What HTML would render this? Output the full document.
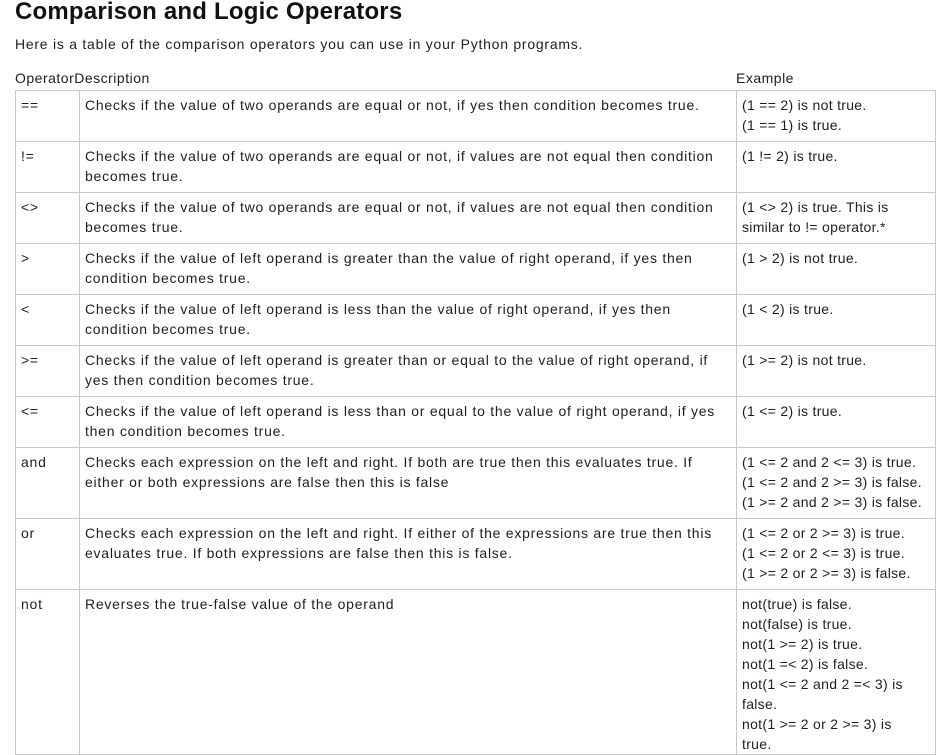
<!DOCTYPE html>
<html><head><meta charset="utf-8"><style>
body{margin:0;background:#fff;width:947px;height:745px;overflow:hidden;font-family:"Liberation Sans",sans-serif;color:#1e1e1e;position:relative}
h1{position:absolute;left:15px;top:-2px;margin:0;font-size:24px;font-weight:bold;color:#111;white-space:nowrap;letter-spacing:0.2px}
.p{position:absolute;left:15px;top:36px;font-size:14px;letter-spacing:0.75px;white-space:nowrap}
.hd{position:absolute;top:70px;font-size:14px;letter-spacing:0.5px;white-space:nowrap}
table{position:absolute;left:15px;top:90px;border-collapse:collapse;table-layout:fixed;font-size:14px;letter-spacing:0.75px}
td{border:1px solid #c8c8c8;vertical-align:top;padding:4px 6px 0 5px;line-height:20px;white-space:nowrap;overflow:hidden}
td:last-child{letter-spacing:0.3px}
</style></head><body>
<h1>Comparison and Logic Operators</h1>
<div class="p">Here is a table of the comparison operators you can use in your Python programs.</div>
<div class="hd" style="left:15px">OperatorDescription</div>
<div class="hd" style="left:736px">Example</div>
<table>
<colgroup><col style="width:64px"><col style="width:657px"><col style="width:199px"></colgroup>
<tr style="height:51px"><td>==</td><td>Checks if the value of two operands are equal or not, if yes then condition becomes true.</td><td>(1 == 2) is not true.<br>(1 == 1) is true.</td></tr>
<tr style="height:51px"><td>!=</td><td>Checks if the value of two operands are equal or not, if values are not equal then condition<br>becomes true.</td><td>(1 != 2) is true.</td></tr>
<tr style="height:51px"><td>&lt;&gt;</td><td>Checks if the value of two operands are equal or not, if values are not equal then condition<br>becomes true.</td><td>(1 &lt;&gt; 2) is true. This is<br>similar to != operator.*</td></tr>
<tr style="height:51px"><td>&gt;</td><td>Checks if the value of left operand is greater than the value of right operand, if yes then<br>condition becomes true.</td><td>(1 &gt; 2) is not true.</td></tr>
<tr style="height:51px"><td>&lt;</td><td>Checks if the value of left operand is less than the value of right operand, if yes then<br>condition becomes true.</td><td>(1 &lt; 2) is true.</td></tr>
<tr style="height:51px"><td>&gt;=</td><td>Checks if the value of left operand is greater than or equal to the value of right operand, if<br>yes then condition becomes true.</td><td>(1 &gt;= 2) is not true.</td></tr>
<tr style="height:51px"><td>&lt;=</td><td>Checks if the value of left operand is less than or equal to the value of right operand, if yes<br>then condition becomes true.</td><td>(1 &lt;= 2) is true.</td></tr>
<tr style="height:71px"><td>and</td><td>Checks each expression on the left and right. If both are true then this evaluates true. If<br>either or both expressions are false then this is false</td><td>(1 &lt;= 2 and 2 &lt;= 3) is true.<br>(1 &lt;= 2 and 2 &gt;= 3) is false.<br>(1 &gt;= 2 and 2 &gt;= 3) is false.</td></tr>
<tr style="height:71px"><td>or</td><td>Checks each expression on the left and right. If either of the expressions are true then this<br>evaluates true. If both expressions are false then this is false.</td><td>(1 &lt;= 2 or 2 &gt;= 3) is true.<br>(1 &lt;= 2 or 2 &lt;= 3) is true.<br>(1 &gt;= 2 or 2 &gt;= 3) is false.</td></tr>
<tr style="height:160px"><td>not</td><td>Reverses the true-false value of the operand</td><td>not(true) is false.<br>not(false) is true.<br>not(1 &gt;= 2) is true.<br>not(1 =&lt; 2) is false.<br>not(1 &lt;= 2 and 2 =&lt; 3) is<br>false.<br>not(1 &gt;= 2 or 2 &gt;= 3) is<br>true.</td></tr>
</table>
</body></html>
